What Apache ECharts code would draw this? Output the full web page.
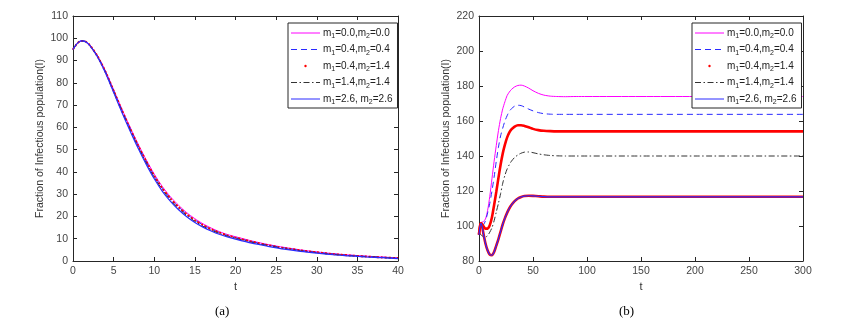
<!DOCTYPE html>
<html><head><meta charset="utf-8">
<script src="https://cdn.jsdelivr.net/npm/echarts/dist/echarts.min.js"></script>
<style>html,body{margin:0;padding:0;background:#fff}#c{width:848px;height:330px}</style>
</head><body><div id="c"></div>
<script>
// ---- Panel (a) data ----
const tA = [0, 0.5, 1, 1.5, 2, 3, 4, 5, 6, 7, 8, 9, 10, 11, 12, 13, 14, 15, 16, 17, 18, 19, 20, 22, 24, 26, 28, 30, 32, 34, 36, 38, 40];
const a_m00 = [95.0, 97.6, 98.8, 98.7, 97.3, 92.3, 85.3, 76.9, 68.4, 60.3, 52.6, 45.5, 39.0, 33.4, 28.8, 25.0, 21.7, 19.0, 16.7, 14.8, 13.2, 11.9, 10.9, 9.0, 7.4, 6.1, 5.0, 4.1, 3.3, 2.7, 2.2, 1.8, 1.4];
const a_m44 = [95.0, 97.6, 98.8, 98.6, 97.2, 92.1, 85.0, 76.5, 67.9, 59.8, 52.0, 44.9, 38.3, 32.7, 28.1, 24.3, 21.0, 18.4, 16.2, 14.3, 12.8, 11.5, 10.5, 8.7, 7.2, 5.9, 4.8, 3.9, 3.2, 2.6, 2.1, 1.7, 1.3];
const a_m414 = [95.0, 97.6, 98.8, 98.6, 97.2, 92.0, 84.9, 76.4, 67.8, 59.6, 51.9, 44.8, 38.2, 32.6, 28.0, 24.2, 21.0, 18.3, 16.1, 14.3, 12.8, 11.5, 10.5, 8.7, 7.1, 5.8, 4.8, 3.9, 3.1, 2.5, 2.0, 1.6, 1.3];
const a_m1414 = [95.0, 97.6, 98.8, 98.6, 97.1, 91.9, 84.7, 76.1, 67.4, 59.2, 51.4, 44.2, 37.6, 32.0, 27.4, 23.6, 20.4, 17.8, 15.6, 13.9, 12.4, 11.2, 10.2, 8.4, 6.9, 5.6, 4.6, 3.7, 3.0, 2.4, 2.0, 1.6, 1.2];
const a_m2626 = [95.0, 97.6, 98.8, 98.5, 97.0, 91.7, 84.4, 75.7, 66.9, 58.6, 50.7, 43.5, 36.9, 31.3, 26.8, 23.0, 19.9, 17.3, 15.2, 13.5, 12.0, 10.8, 9.8, 8.0, 6.6, 5.3, 4.3, 3.5, 2.8, 2.3, 1.8, 1.5, 1.1];

// ---- Panel (b) data ----
const tB = [0, 1, 2, 3, 4, 6, 8, 10, 12, 14, 16, 18, 20, 22, 24, 26, 28, 30, 33, 36, 39, 42, 46, 50, 55, 60, 66, 72, 80, 90, 100, 150, 200, 250, 300];
const b_m00 = [95, 100, 102, 102.3, 102.5, 104, 109, 117, 127, 137, 146, 154.5, 161.5, 167, 171, 174.5, 176.5, 178, 179.5, 180.3, 180.5, 180, 178.8, 177.3, 175.8, 174.8, 174.2, 174, 173.9, 174, 174, 174, 174, 174, 174];
const b_m44 = [95, 98.5, 100, 100.3, 100.5, 103, 107.5, 113, 120, 128, 137, 145, 151.5, 156, 160, 163, 165.5, 167, 168.5, 169, 168.8, 168, 166.8, 165.8, 164.8, 164.2, 163.9, 163.8, 163.8, 163.8, 163.8, 163.8, 163.8, 163.8, 163.8];
const b_m414 = [95, 100, 101.5, 101, 100, 98.5, 98.5, 100.5, 105, 112, 119.5, 127.5, 135, 141.5, 146.5, 150.5, 153.3, 155.2, 156.8, 157.6, 157.6, 157.2, 156.4, 155.5, 154.8, 154.4, 154.2, 154.1, 154.1, 154.1, 154.1, 154.1, 154.1, 154.1, 154.1];
const b_m1414 = [95, 95.5, 95, 94.3, 93.8, 93.7, 94.5, 96.5, 99, 103, 108, 113, 118.5, 124.5, 129, 132.5, 135, 137, 139.2, 140.6, 141.6, 142.2, 142.3, 141.9, 141.2, 140.7, 140.3, 140.1, 140, 140, 140, 140, 140, 140, 140];
const b_m2626 = [95, 100, 101.5, 99.5, 96, 90, 86, 83.6, 83.3, 85.2, 88.8, 92.5, 96.8, 101, 104.5, 107.5, 110, 112, 114.2, 115.7, 116.6, 117.1, 117.3, 117.2, 117, 116.8, 116.7, 116.7, 116.7, 116.7, 116.7, 116.7, 116.7, 116.7, 116.7];

// ---- Axes / labels ----
const xRangeA = [0, 40, 5];
const yRangeA = [0, 110, 10];
const xRangeB = [0, 300, 50];
const yRangeB = [80, 220, 20];
const seriesNames = ['m1=0.0,m2=0.0', 'm1=0.4,m2=0.4', 'm1=0.4,m2=1.4', 'm1=1.4,m2=1.4', 'm1=2.6, m2=2.6'];
const yTitle = 'Fraction of Infectious population(I)';
const xTitle = 't';
const captions = ['(a)', '(b)'];

const FONT = 'Liberation Sans, Arial, Helvetica, sans-serif';
const AX = '#262626';
const BLUE = '#2a2aff';
const pair = (t, v) => t.map((x, i) => [x, v[i]]);

function xAx(grid, r, pos, main) {
  return {
    gridIndex: grid, type: 'value', min: r[0], max: r[1], interval: r[2], position: pos,
    name: main ? xTitle : '', nameLocation: 'middle', nameGap: 19,
    nameTextStyle: {color: '#333', fontSize: 11, fontFamily: FONT},
    axisLine: {show: true, onZero: false, lineStyle: {color: AX, width: 1}},
    axisTick: {show: true, inside: true, length: 4, lineStyle: {color: AX}},
    axisLabel: {show: main, color: '#444', fontSize: 10.5, fontFamily: FONT, margin: 5},
    splitLine: {show: false}
  };
}
function yAx(grid, r, pos, main) {
  return {
    gridIndex: grid, type: 'value', min: r[0], max: r[1], interval: r[2], position: pos,
    name: main ? yTitle : '', nameLocation: 'middle', nameGap: 27,
    nameTextStyle: {color: '#333', fontSize: 10.5, fontFamily: FONT},
    axisLine: {show: true, onZero: false, lineStyle: {color: AX, width: 1}},
    axisTick: {show: true, inside: true, length: 4, lineStyle: {color: AX}},
    axisLabel: {show: main, color: '#444', fontSize: 10.5, fontFamily: FONT, margin: 5},
    splitLine: {show: false}
  };
}

const styles = [
  {color: '#ff00ff', lineStyle: {color: '#ff00ff', width: 1, type: 'solid'}},
  {color: BLUE, lineStyle: {color: BLUE, width: 1, type: [6, 4]}},
  {color: '#ff0000', lineStyle: {color: '#ff0000', width: 2, type: 'dotted'}},
  {color: '#333333', lineStyle: {color: '#333333', width: 1, type: [6, 2.5, 1.5, 2.5]}},
  {color: BLUE, lineStyle: {color: BLUE, width: 1.2, type: 'solid'}}
];

const dataA = [a_m00, a_m44, a_m414, a_m1414, a_m2626];
const dataB = [b_m00, b_m44, b_m414, b_m1414, b_m2626];

const series = [];
dataA.forEach((d, i) => {
  series.push({
    name: seriesNames[i], type: 'line', xAxisIndex: 0, yAxisIndex: 0,
    data: pair(tA, d), symbol: 'none', smooth: 0.25, animation: false, z: 2 + i,
    itemStyle: {color: styles[i].color}, lineStyle: styles[i].lineStyle
  });
});
// red underlay along the lowest curve in (b)
series.push({
  name: 'underlay', type: 'line', xAxisIndex: 2, yAxisIndex: 2,
  data: pair(tB, b_m2626), symbol: 'none', smooth: 0.25, animation: false, z: 2,
  itemStyle: {color: '#ff0000'}, lineStyle: {color: '#ff0000', width: 2.6}
});
dataB.forEach((d, i) => {
  const ls = i === 2 ? {color: '#ff0000', width: 2.6, type: 'solid'} : styles[i].lineStyle;
  series.push({
    name: seriesNames[i], type: 'line', xAxisIndex: 2, yAxisIndex: 2,
    data: pair(tB, d), symbol: 'none', smooth: 0.25, animation: false, z: 3 + i,
    itemStyle: {color: styles[i].color}, lineStyle: ls
  });
});

const legendData = seriesNames.map((n, i) => i === 2
  ? {name: n, itemStyle: {opacity: 1, color: '#ff0000'}, lineStyle: {opacity: 0}}
  : {name: n, itemStyle: {opacity: 0}, lineStyle: {color: styles[i].lineStyle.color, width: 1, type: styles[i].lineStyle.type, opacity: 1}});

function legend(left) {
  return {
    left: left, top: 23, orient: 'vertical', data: legendData, selectedMode: false,
    backgroundColor: '#fff', borderColor: '#262626', borderWidth: 1,
    padding: [3, 5, 2, 2], itemGap: 2.5, itemWidth: 29, itemHeight: 3,
    formatter: n => n.replace(/m(\d)/g, 'm{s|$1}'),
    textStyle: {
      color: '#222', fontSize: 10, lineHeight: 14, fontFamily: FONT, padding: [0, 0, 0, -2],
      rich: {s: {fontSize: 7, lineHeight: 8, verticalAlign: 'bottom', fontFamily: FONT, color: '#222'}}
    }
  };
}

const chart = echarts.init(document.getElementById('c'), null, {renderer: 'canvas'});
chart.setOption({
  animation: false,
  backgroundColor: '#fff',
  grid: [
    {left: 73, top: 16, width: 325, height: 245},
    {left: 479, top: 16, width: 324, height: 245}
  ],
  xAxis: [xAx(0, xRangeA, 'bottom', true), xAx(0, xRangeA, 'top', false), xAx(1, xRangeB, 'bottom', true), xAx(1, xRangeB, 'top', false)],
  yAxis: [yAx(0, yRangeA, 'left', true), yAx(0, yRangeA, 'right', false), yAx(1, yRangeB, 'left', true), yAx(1, yRangeB, 'right', false)],
  legend: [legend(288), legend(692)],
  series: series,
  graphic: [
    {type: 'text', left: 215, top: 305, style: {text: captions[0], font: '13px "Liberation Serif", "Times New Roman", serif', fill: '#000'}},
    {type: 'text', left: 619, top: 305, style: {text: captions[1], font: '13px "Liberation Serif", "Times New Roman", serif', fill: '#000'}}
  ]
});
</script></body></html>
